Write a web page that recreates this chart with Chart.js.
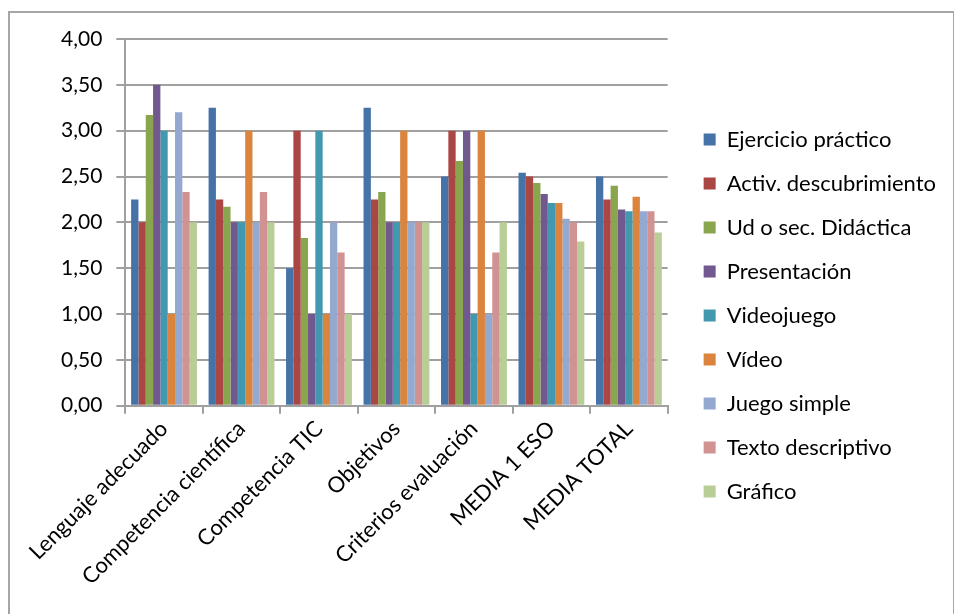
<!DOCTYPE html>
<html>
<head>
<meta charset="utf-8">
<script src="https://cdn.jsdelivr.net/npm/chart.js@4"></script>
<style>
  body { margin: 0; background: #fff; }
  #wrap { position: relative; width: 954px; height: 614px; overflow: hidden; }
  #frame { position: absolute; left: 8px; top: 11px; width: 943px; height: 700px; border: 2px solid #a6a6a6; }
  canvas { position: absolute; left: 0; top: 0; }
</style>
</head>
<body>
<div id="wrap">
  <div id="frame"></div>
  <canvas id="chart" width="954" height="614"></canvas>
</div>
<script>
const categories = ["Lenguaje adecuado", "Competencia científica", "Competencia TIC", "Objetivos", "Criterios evaluación", "MEDIA 1 ESO", "MEDIA TOTAL"];

const ejercicioPractico = [2.25, 3.25, 1.50, 3.25, 2.50, 2.54, 2.50];
const activDescubrimiento = [2.00, 2.25, 3.00, 2.25, 3.00, 2.50, 2.25];
const udDidactica = [3.17, 2.17, 1.83, 2.33, 2.67, 2.43, 2.40];
const presentacion = [3.50, 2.00, 1.00, 2.00, 3.00, 2.31, 2.14];
const videojuego = [3.00, 2.00, 3.00, 2.00, 1.00, 2.21, 2.12];
const video = [1.00, 3.00, 1.00, 3.00, 3.00, 2.21, 2.28];
const juegoSimple = [3.20, 2.00, 2.00, 2.00, 1.00, 2.04, 2.12];
const textoDescriptivo = [2.33, 2.33, 1.67, 2.00, 1.67, 2.00, 2.12];
const grafico = [2.00, 2.00, 1.00, 2.00, 2.00, 1.79, 1.89];

const seriesNames = ["Ejercicio práctico", "Activ. descubrimiento", "Ud o sec. Didáctica", "Presentación", "Videojuego", "Vídeo", "Juego simple", "Texto descriptivo", "Gráfico"];
const seriesValues = [ejercicioPractico, activDescubrimiento, udDidactica, presentacion, videojuego, video, juegoSimple, textoDescriptivo, grafico];
const seriesColors = ["#4572A7", "#AA4643", "#89A54E", "#71588F", "#4198AF", "#DB843D", "#93A9CF", "#D19392", "#B9CD96"];

const FONT = "Lato, 'Liberation Sans', sans-serif";

new Chart(document.getElementById("chart"), {
  type: "bar",
  data: {
    labels: categories,
    datasets: seriesNames.map((name, i) => ({
      label: name,
      data: seriesValues[i],
      backgroundColor: seriesColors[i],
      borderWidth: 0,
      categoryPercentage: 0.85,
      barPercentage: 1.0,
    })),
  },
  options: {
    responsive: false,
    animation: false,
    layout: { padding: { left: 47, right: 8, top: 39, bottom: 22 } },
    plugins: {
      tooltip: { enabled: false },
      legend: {
        position: "right",
        align: "center",
        maxWidth: 320,
        labels: {
          color: "#000",
          font: { family: FONT, size: 22 },
          boxWidth: 12,
          boxHeight: 12,
          padding: 22,
        },
      },
    },
    scales: {
      x: {
        grid: { drawOnChartArea: false, drawTicks: true, tickLength: 8, color: "#a0a0a0", lineWidth: 2 },
        border: { color: "#a0a0a0", width: 2 },
        ticks: {
          color: "#000",
          font: { family: FONT, size: 22 },
          maxRotation: 45,
          minRotation: 45,
          padding: 2,
        },
      },
      y: {
        min: 0,
        max: 4,
        grid: { color: "#a0a0a0", lineWidth: 2, tickLength: 9 },
        border: { color: "#a0a0a0", width: 2 },
        ticks: {
          stepSize: 0.5,
          color: "#000",
          font: { family: FONT, size: 21 },
          padding: 14,
          callback: (v) => v.toFixed(2).replace(".", ","),
        },
      },
      // empty spacer between plot and legend
      gap: {
        position: "right",
        grid: { display: false, drawTicks: false },
        border: { display: false },
        ticks: { display: false },
        afterFit: (scale) => { scale.width = 14; },
      },
    },
  },
});
</script>
</body>
</html>
